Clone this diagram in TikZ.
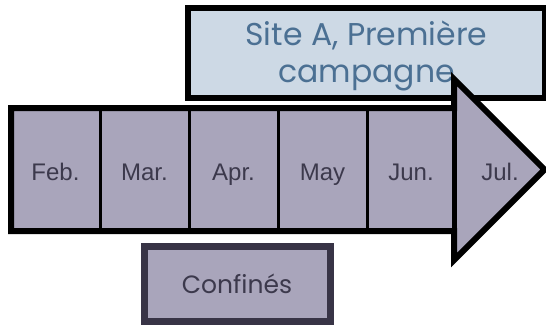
\documentclass[tikz,border=0pt]{standalone}
\usepackage{fontspec}
\setmainfont{Liberation Sans}
\newfontfamily\gothic{Poppins}
\definecolor{arrowfill}{HTML}{A9A5BB}
\definecolor{sitefill}{HTML}{CDD9E5}
\definecolor{sitetext}{HTML}{4B7093}
\definecolor{monthtext}{HTML}{3C394C}
\definecolor{confborder}{HTML}{383446}
\tikzset{
  sitebox/.style={draw=black, line width=6pt, fill=sitefill, rectangle, inner sep=0pt},
  sitetxt/.style={text=sitetext, font=\gothic\fontsize{31.5}{37}\selectfont, inner sep=0pt},
  arrowshape/.style={draw=black, line width=6pt, fill=arrowfill, line join=miter, miter limit=10},
  divider/.style={draw=black, line width=3pt},
  month/.style={text=monthtext, font=\fontsize{24}{28}\selectfont, inner sep=0pt},
  confbox/.style={draw=confborder, line width=7pt, fill=arrowfill, rectangle, inner sep=0pt},
  conftxt/.style={text=monthtext, font=\gothic\fontsize{25}{29}\selectfont, inner sep=0pt}
}
\begin{document}
\begin{tikzpicture}[x=1pt,y=-1pt]
\useasboundingbox (0,0) rectangle (546,325);
% top box
\node[sitebox, minimum width=357pt, minimum height=89.5pt] (site) at (366.5,52.75) {};
\node[sitetxt, anchor=base] (site1) at (366.5,45) {Site A, Première};
\node[sitetxt, anchor=base] (site2) at (366.5,82) {campagne};
% bottom box
\node[confbox, minimum width=186.5pt, minimum height=75.5pt] (conf) at (237.25,283.75) {};
\node[conftxt, anchor=base] (conftext) at (237,293) {Confinés};
% arrow
\coordinate (s1) at (11,108);
\coordinate (s2) at (454,108);
\coordinate (h1) at (454,79);
\coordinate (tip) at (544.5,169.5);
\coordinate (h2) at (454,260);
\coordinate (s3) at (454,231);
\coordinate (s4) at (11,231);
\draw[arrowshape] (s1) -- (s2) -- (h1) -- (tip) -- (h2) -- (s3) -- (s4) -- cycle;
\foreach \x in {100,189,278,367} {
  \draw[divider] (\x,108) -- (\x,231);
}
\draw[black, line width=5pt] (s2) -- (s3);
% months
\node[month, anchor=base] (feb) at (55.5,180) {Feb.};
\node[month, anchor=base] (mar) at (144.5,180) {Mar.};
\node[month, anchor=base] (apr) at (233.5,180) {Apr.};
\node[month, anchor=base] (may) at (322.5,180) {May};
\node[month, anchor=base] (jun) at (411,180) {Jun.};
\node[month, anchor=base] (jul) at (500,180) {Jul.};
\end{tikzpicture}
\end{document}
